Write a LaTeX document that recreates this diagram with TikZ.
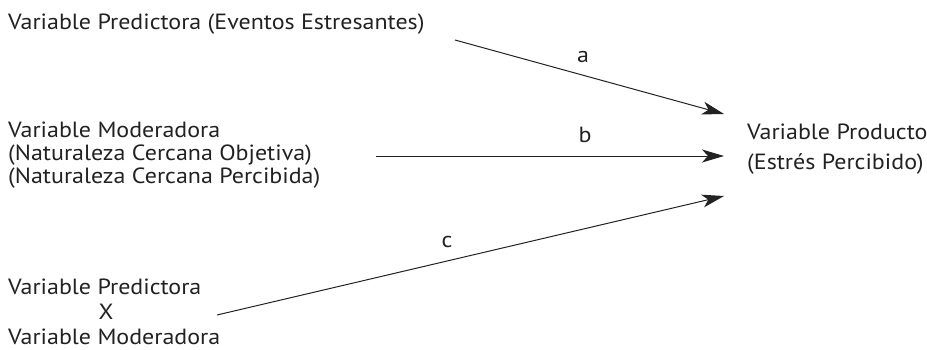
\documentclass[tikz,border=0pt]{standalone}
\usepackage{fontspec}
\setmainfont{PT Sans}[FakeStretch=1.09]
\usetikzlibrary{arrows.meta}
\definecolor{ink}{HTML}{222222}
\tikzset{
  lbl/.style={anchor=base west, inner sep=0pt, text=ink, font=\fontsize{22}{25}\selectfont},
  lblc/.style={anchor=base, inner sep=0pt, text=ink, font=\fontsize{22}{25}\selectfont},
  conn/.style={draw=ink, line width=1pt, -{Stealth[length=22pt,width=13pt,inset=6pt]}}
}
\begin{document}
\begin{tikzpicture}[x=1pt,y=-1pt]
\useasboundingbox (0,0) rectangle (927,349);
\node[lbl] (p1) at (8,29) {Variable Predictora (Eventos Estresantes)};
\node[lbl] (m1) at (8,137) {Variable Moderadora};
\node[lbl] (m2) at (8,160) {(Naturaleza Cercana Objetiva)};
\node[lbl] (m3) at (8,183) {(Naturaleza Cercana Percibida)};
\node[lbl] (x1) at (8,294) {Variable Predictora};
\node[lblc] (x2) at (106,319) {X};
\node[lbl] (x3) at (8,344) {Variable Moderadora};
\node[lbl] (o1) at (747,139) {Variable Producto};
\node[lbl] (o2) at (747,169) {(Estrés Percibido)};
\coordinate (as) at (455,40);
\coordinate (ae) at (724,114);
\coordinate (bs) at (376,156);
\coordinate (be) at (724,156);
\coordinate (cs) at (217,315);
\coordinate (ce) at (724,196);
\draw[conn] (as) -- (ae);
\node[lblc] (la) at (583,62) {a};
\draw[conn] (bs) -- (be);
\node[lblc] (lb) at (585,142) {b};
\draw[conn] (cs) -- (ce);
\node[lblc] (lc) at (447,247) {c};
\end{tikzpicture}
\end{document}
